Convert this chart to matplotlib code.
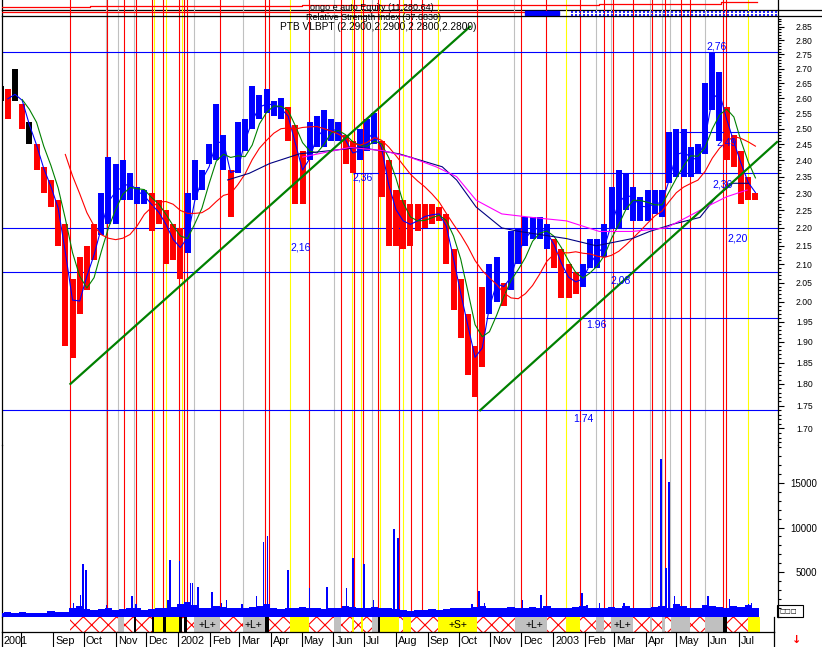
import numpy as np
import pandas as pd
import matplotlib
matplotlib.use("Agg")
import matplotlib.pyplot as plt
import matplotlib.dates as mdates
import matplotlib.transforms as mtransforms
from matplotlib.patches import Rectangle
from matplotlib.lines import Line2D
from matplotlib.ticker import FixedLocator, NullFormatter, MultipleLocator, FixedFormatter

plt.rcParams['font.family'] = ['Liberation Sans', 'DejaVu Sans']
plt.rcParams['hatch.linewidth'] = 0.8

# ------------------------------------------------------------------ data
week_start = '2001-07-12'   # weekly bars (one per week)
price_high = [2.64, 2.63, 2.70, 2.58, 2.52, 2.45, 2.38, 2.34, 2.28, 2.21,
              2.06, 2.12, 2.15, 2.21, 2.30, 2.41, 2.39, 2.40, 2.36, 2.32,
              2.31, 2.30, 2.28, 2.25, 2.21, 2.20, 2.30, 2.40, 2.37, 2.45,
              2.58, 2.48, 2.37, 2.52, 2.53, 2.64, 2.61, 2.63, 2.59, 2.60,
              2.57, 2.51, 2.43, 2.52, 2.54, 2.56, 2.53, 2.52, 2.48, 2.46,
              2.50, 2.53, 2.55, 2.46, 2.40, 2.31, 2.28, 2.27, 2.27, 2.27,
              2.27, 2.26, 2.24, 2.14, 2.06, 1.97, 1.89, 2.04, 2.10, 2.12,
              2.05, 2.19, 2.20, 2.23, 2.23, 2.23, 2.21, 2.17, 2.14, 2.10,
              2.08, 2.10, 2.17, 2.17, 2.21, 2.32, 2.37, 2.36, 2.32, 2.29,
              2.31, 2.31, 2.31, 2.49, 2.50, 2.50, 2.44, 2.45, 2.65, 2.76,
              2.69, 2.57, 2.48, 2.43, 2.35, 2.30]
price_low = [2.59, 2.53, 2.59, 2.50, 2.45, 2.37, 2.30, 2.26, 2.15, 1.89,
             1.86, 1.97, 2.03, 2.11, 2.18, 2.21, 2.21, 2.28, 2.28, 2.27,
             2.27, 2.19, 2.21, 2.10, 2.11, 2.06, 2.13, 2.28, 2.31, 2.39,
             2.40, 2.37, 2.23, 2.36, 2.43, 2.50, 2.53, 2.55, 2.54, 2.53,
             2.46, 2.27, 2.27, 2.40, 2.44, 2.44, 2.46, 2.46, 2.39, 2.36,
             2.40, 2.43, 2.45, 2.29, 2.15, 2.15, 2.14, 2.15, 2.19, 2.20,
             2.21, 2.22, 2.10, 1.98, 1.91, 1.82, 1.77, 1.84, 1.97, 2.00,
             1.99, 2.03, 2.10, 2.15, 2.17, 2.17, 2.14, 2.09, 2.01, 2.01,
             2.02, 2.04, 2.09, 2.09, 2.12, 2.20, 2.20, 2.25, 2.22, 2.22,
             2.22, 2.24, 2.23, 2.33, 2.35, 2.35, 2.35, 2.36, 2.42, 2.56,
             2.46, 2.40, 2.38, 2.27, 2.28, 2.28]
bar_trend = ("krkrk" + "rrrrrrrrr" + "bbbbbbb" + "rrrrr" + "bbbbbb" + "r" +
             "bbbbbbb" + "rrr" + "bbbbb" + "rr" + "bbb" + "rrrrrrrrrrrrrrr" +
             "bb" + "r" + "bbbbbb" + "rrrr" + "bbbbbbbbbbbbbbbbbbbb" + "rrrrr")

ma_windows = [2, 4, 10]
ma_colors = ['#0000ff', '#008000', '#ff0000']

navy_dates = ['2002-02-18', '2002-03-11', '2002-03-31', '2002-04-29', '2002-05-29',
              '2002-06-27', '2002-08-04', '2002-09-15', '2002-09-29', '2002-10-18',
              '2002-11-12', '2002-11-29', '2003-01-14', '2003-02-12', '2003-03-19',
              '2003-04-05', '2003-04-27', '2003-05-24', '2003-06-09', '2003-06-25',
              '2003-07-10']
navy_vals = [2.34, 2.36, 2.39, 2.42, 2.43, 2.44, 2.42, 2.38, 2.34, 2.26,
             2.20, 2.19, 2.17, 2.15, 2.17, 2.19, 2.21, 2.23, 2.29, 2.33, 2.33]
magenta_dates = ['2002-05-02', '2002-06-17', '2002-07-19', '2002-08-14', '2002-09-09',
                 '2002-09-29', '2002-10-18', '2002-11-12', '2002-12-11', '2003-01-14',
                 '2003-02-15', '2003-03-19', '2003-04-21', '2003-05-11', '2003-05-30',
                 '2003-06-19', '2003-07-09']
magenta_vals = [2.41, 2.44, 2.43, 2.41, 2.38, 2.35, 2.28, 2.24, 2.23, 2.22,
                2.19, 2.19, 2.20, 2.23, 2.26, 2.29, 2.31]

volume_week = [400, 450, 350, 500, 400, 350, 400, 600, 500, 450,
               900, 1200, 800, 700, 800, 900, 700, 800, 1000, 900, 700,
               800, 900, 1000, 1100, 1400, 1600, 1300, 1000, 900, 1200, 1100, 1000,
               900, 1000, 1100, 1200, 1400, 900, 800, 1000, 900, 1100, 1000, 900, 800,
               900, 1000, 1200, 1100, 1000, 900, 1100, 1000, 900, 800, 700, 600, 700, 700, 800,
               700, 800, 900, 1000, 900, 1100, 1200, 1000, 900, 1000, 1100, 900, 1000, 1100, 1000,
               1200, 1000, 900, 1000, 1100, 1200, 1000, 900, 1000, 1100, 900, 1200, 1000, 900, 1000,
               1100, 1200, 1000, 1400, 1200, 900, 1000, 1300, 1200, 1100, 1000, 1200, 1100, 1300, 1000]
spike_dates = ['2001-09-21', '2001-09-28', '2001-09-30', '2001-10-03', '2001-10-23',
               '2001-11-17', '2001-11-21', '2001-12-22', '2001-12-24', '2002-01-02',
               '2002-01-13', '2002-01-15', '2002-01-20', '2002-02-03', '2002-02-12',
               '2002-02-17', '2002-03-04', '2002-03-18', '2002-03-25', '2002-03-29',
               '2002-04-18', '2002-05-09', '2002-05-26', '2002-06-14', '2002-06-20',
               '2002-07-01', '2002-07-10', '2002-07-30', '2002-08-03', '2002-10-14',
               '2002-10-21', '2002-10-26', '2002-12-02', '2002-12-20', '2003-01-29',
               '2003-02-03', '2003-02-15', '2003-03-11', '2003-04-16', '2003-04-21',
               '2003-04-24', '2003-04-29', '2003-06-01', '2003-06-22', '2003-07-10',
               '2003-07-13']
spike_vals = [1570, 2470, 5850, 5280, 1240, 2250, 1460, 1910, 6400, 6290,
              3710, 3710, 3260, 2700, 1570, 1910, 1460, 2360, 8320, 9100,
              5280, 3150, 3260, 3150, 6630, 5850, 1910, 9890, 8770, 1460,
              2810, 1570, 1800, 2470, 2590, 1240, 1570, 1570, 17650, 5500,
              15170, 2360, 2360, 2020, 1350, 1570]

signal_dates = ['2001-09-18', '2001-10-23', '2001-10-24', '2001-11-03', '2001-11-09',
                '2001-11-19', '2001-11-21', '2001-12-06', '2001-12-08', '2001-12-17',
                '2001-12-20', '2002-01-02', '2002-01-05', '2002-01-07', '2002-01-09',
                '2002-01-16', '2002-02-11', '2002-03-05', '2002-03-26', '2002-03-30',
                '2002-04-20', '2002-05-08', '2002-06-02', '2002-06-08', '2002-06-19',
                '2002-06-21', '2002-06-28', '2002-06-30', '2002-07-09', '2002-07-14',
                '2002-07-16', '2002-08-04', '2002-08-08', '2002-08-16', '2002-08-26',
                '2002-09-11', '2002-10-19', '2002-11-24', '2002-12-01', '2002-12-25',
                '2003-01-14', '2003-01-27', '2003-02-12', '2003-02-20', '2003-02-26',
                '2003-02-28', '2003-03-20', '2003-04-05', '2003-04-07', '2003-04-17',
                '2003-04-20', '2003-04-25', '2003-05-06', '2003-05-14', '2003-05-29',
                '2003-06-15', '2003-06-18', '2003-07-10']
signal_kinds = ("rgrgrgrryr" + "yryrrgrgrr" + "yrgryryrgr" + "yryrryrgrr" +
                "yrgrgrrgrg" + "rgrrgrry")

segment_dates = ['2001-07-12', '2001-09-18', '2001-10-24', '2001-11-03', '2001-11-09',
                 '2001-11-19', '2001-11-21', '2001-12-06', '2001-12-08', '2001-12-17',
                 '2001-12-20', '2002-01-02', '2002-01-05', '2002-01-07', '2002-01-09',
                 '2002-01-16', '2002-02-11', '2002-03-05', '2002-03-26', '2002-03-30',
                 '2002-04-20', '2002-05-08', '2002-06-02', '2002-06-08', '2002-06-19',
                 '2002-06-21', '2002-06-28', '2002-06-30', '2002-07-09', '2002-07-14',
                 '2002-07-16', '2002-08-04', '2002-08-08', '2002-08-16', '2002-08-26',
                 '2002-09-11', '2002-10-19', '2002-11-25', '2002-12-01', '2002-12-26',
                 '2003-01-14', '2003-01-27', '2003-02-12', '2003-02-20', '2003-02-26',
                 '2003-03-20', '2003-04-05', '2003-04-07', '2003-04-17', '2003-04-20',
                 '2003-04-26', '2003-05-14', '2003-05-29', '2003-06-15', '2003-06-19',
                 '2003-07-10', '2003-07-21']
segment_kinds = "whhghkhkyk" + "ykhkhghgkh" + "yhghyhyhgk" + "yhyhhyhggh" + "yhghghghgh" + "ghgkhyw"
segment_texts = {15: '+L+', 17: '+L+', 35: '+S+', 38: '+L+', 44: '+L+'}

level_values = [2.76, 2.49, 2.36, 2.20, 2.08, 1.96, 1.74]
level_starts = [None, '2003-05-04', '2002-06-20', None, None, '2002-10-28', None]
label_dates = ['2003-06-09', '2003-06-19', '2003-06-15', '2003-06-30', '2003-03-08',
               '2003-02-12', '2003-01-30', '2002-04-30', '2002-06-29']
label_prices = [2.777, 2.457, 2.325, 2.169, 2.055, 1.942, 1.720, 2.144, 2.346]
label_texts = ['2,76', '2,49', '2,36', '2,20', '2,08', '1.96', '1.74', '2,16', '2,36']

trend1_dates = ['2001-09-18', '2002-10-12']
trend1_prices = [1.80, 2.85]
trend2_dates = ['2002-10-22', '2003-08-07']
trend2_prices = [1.74, 2.457]

equity_dates = ['2001-07-12', '2001-10-07', '2001-12-14', '2002-05-01', '2003-02-15',
                '2003-03-26', '2003-04-25', '2003-06-13', '2003-07-19']
equity_vals = [10259, 10429, 10480, 10701, 10820, 10871, 10905, 11280.64, 11280.64]
rsi_dates = ['2001-07-12', '2002-12-05']
rsi_vals = [62, 62]

price_ticks = [round(1.70 + 0.05 * i, 2) for i in range(24)]
volume_ticks = [5000, 10000, 15000]
month_dates = ['2001-08-01', '2001-09-01', '2001-10-01', '2001-11-01', '2001-12-01',
               '2002-01-01', '2002-02-01', '2002-03-01', '2002-04-01', '2002-05-01',
               '2002-06-01', '2002-07-01', '2002-08-01', '2002-09-01', '2002-10-01',
               '2002-11-01', '2002-12-01', '2003-01-01', '2003-02-01', '2003-03-01',
               '2003-04-01', '2003-05-01', '2003-06-01', '2003-07-01']
month_labels = ['', 'Sep', 'Oct', 'Nov', 'Dec', '2002', 'Feb', 'Mar', 'Apr', 'May',
                'Jun', 'Jul', 'Aug', 'Sep', 'Oct', 'Nov', 'Dec', '2003', 'Feb', 'Mar',
                'Apr', 'May', 'Jun', 'Jul']

# ------------------------------------------------------------------ layout helpers
W, H = 822, 647
fig = plt.figure(figsize=(W / 100, H / 100), dpi=100)
fig.patch.set_facecolor('white')


def px_axes(x0, y0, x1, y1):
    ax = fig.add_axes([x0 / W, 1 - y1 / H, (x1 - x0) / W, (y1 - y0) / H])
    ax.set_facecolor('none')
    for s in ax.spines.values():
        s.set_visible(False)
        s.set_linewidth(0.9)
    ax.tick_params(left=False, right=False, top=False, bottom=False,
                   labelleft=False, labelright=False, labelbottom=False, labeltop=False)
    return ax


def dnum(d):
    return mdates.date2num(np.array(d, dtype='datetime64[D]'))


ORIGIN = dnum('2001-09-01')
PXD = 686 / 668


def xlim_px(x0, x1):
    return (ORIGIN + (x0 - 53) / PXD, ORIGIN + (x1 - 53) / PXD)


ax_eq = px_axes(2, 0, 778, 10)
ax_rsi = px_axes(2, 10, 778, 16)
axp = px_axes(2, 16, 778, 445)
axv = px_axes(2, 445, 778, 616.5)
axs = px_axes(2, 616.5, 774, 632)
axd = px_axes(2, 632, 774, 647)

for ax in (ax_eq, ax_rsi, axp, axv):
    ax.set_xlim(*xlim_px(2, 778))
    ax.spines['left'].set_visible(True)
    ax.spines['right'].set_visible(True)
for ax in (axs, axd):
    ax.set_xlim(*xlim_px(2, 774))
    ax.set_ylim(0, 1)
    ax.spines['left'].set_visible(True)
    ax.spines['right'].set_visible(True)
axd.spines['top'].set_visible(True)
ax_eq.spines['bottom'].set_visible(True)
axp.spines['top'].set_visible(True)

for ypx in (10, 16):
    fig.add_artist(Line2D([778 / W, 1.0], [1 - ypx / H] * 2, color='black', lw=0.9))

# ------------------------------------------------------------------ signal lines
sig_colors = {'r': '#ff0000', 'y': '#ffff00', 'g': '#c0c0c0'}
sig_x = dnum(signal_dates)
for ax in (ax_eq, ax_rsi, axp, axv):
    for x, k in zip(sig_x, signal_kinds):
        ax.axvline(x, color=sig_colors[k], lw=0.8, zorder=1)

# ------------------------------------------------------------------ top mini panels
ax_eq.set_ylim(9800, 11580)
ax_eq.plot(dnum(equity_dates), equity_vals, color='#ff0000', lw=0.9,
           drawstyle='steps-post', zorder=3)
ax_rsi.set_ylim(0, 100)
ax_rsi.plot(dnum(rsi_dates), rsi_vals, color='#ff0000', lw=0.9, zorder=3)
ax_rsi.axvspan(dnum('2002-12-05'), dnum('2003-01-07'), ymin=0.15, ymax=0.8,
               color='#0000ff', zorder=3)
for lvl in (67, 17):
    ax_rsi.plot(dnum(['2003-01-18', '2003-08-07']), [lvl, lvl], color='#0000ff',
                lw=1.2, ls=(0, (1.2, 1.2)), zorder=3)

fig.text(310 / W, 1 - 7.5 / H, 'ongo e auto Equity (11,280.64)', fontsize=6.5,
         ha='left', va='center')
fig.text(306 / W, 1 - 17.5 / H, 'Relative Strength Index (37.6830)', fontsize=6.5,
         ha='left', va='center')
fig.text(280 / W, 1 - 27.5 / H, 'PTB VLBPT (2.2900,2.2900,2.2800,2.2800)', fontsize=7.3,
         ha='left', va='center')

# ------------------------------------------------------------------ price panel
axp.set_yscale('log')
axp.set_ylim(1.6639, 2.8895)
wd = pd.date_range(week_start, periods=len(price_high), freq='7D')
wx = mdates.date2num(wd.to_pydatetime())
cmap = {'k': '#000000', 'r': '#ff0000', 'b': '#0000ff'}
axp.vlines(wx, price_low, price_high, colors=[cmap[c] for c in bar_trend],
           lw=4.3, zorder=3, capstyle='butt')

typical = pd.Series((np.array(price_high) + np.array(price_low)) / 2, index=wx)
for win, col in zip(ma_windows, ma_colors):
    ma = typical.rolling(win).mean()
    axp.plot(wx, ma.values, color=col, lw=0.8, zorder=4)
axp.plot(dnum(navy_dates), navy_vals, color='#000080', lw=0.8, zorder=4)
axp.plot(dnum(magenta_dates), magenta_vals, color='#ff00ff', lw=0.8, zorder=4)

xl = axp.get_xlim()
for lvl, st in zip(level_values, level_starts):
    x0 = xl[0] if st is None else dnum(st)
    axp.hlines(lvl, x0, xl[1], colors='#0000ff', lw=0.8, zorder=2)

axp.plot(dnum(trend1_dates), trend1_prices, color='#008000', lw=1.6, zorder=5)
axp.plot(dnum(trend2_dates), trend2_prices, color='#008000', lw=1.6, zorder=5)

for d, p, t in zip(label_dates, label_prices, label_texts):
    axp.text(dnum(d), p, t, color='#0000ff', fontsize=7.5, ha='center', va='center',
             zorder=6)

axp.yaxis.tick_right()
axp.yaxis.set_major_locator(FixedLocator(price_ticks))
axp.yaxis.set_minor_locator(FixedLocator([round(1.67 + 0.01 * i, 2) for i in range(122)]))
axp.yaxis.set_major_formatter(FixedFormatter(['%.2f' % t for t in price_ticks]))
axp.yaxis.set_minor_formatter(NullFormatter())
axp.tick_params(axis='y', which='major', right=True, labelright=True, direction='out',
                length=4.3, width=0.8, pad=8.6, labelsize=6.2)
axp.tick_params(axis='y', which='minor', right=True, direction='out', length=2.2, width=0.8)

# ------------------------------------------------------------------ volume panel
axv.set_ylim(0, 19275)
axv.bar(wx, volume_week, width=7.0, color='#0000ff', zorder=3, linewidth=0)
axv.bar(dnum(spike_dates), spike_vals, width=1.4, color='#0000ff', zorder=3, linewidth=0)
axv.yaxis.tick_right()
axv.yaxis.set_major_locator(FixedLocator(volume_ticks))
axv.yaxis.set_minor_locator(MultipleLocator(1000))
axv.tick_params(axis='y', which='major', right=True, labelright=True, direction='out',
                length=4.3, width=0.8, pad=24, labelsize=7)
axv.tick_params(axis='y', which='minor', right=True, direction='out', length=2.2, width=0.8)
for lab in axv.get_yticklabels():
    lab.set_horizontalalignment('right')

# ------------------------------------------------------------------ signal strip
seg_x = list(dnum(segment_dates)) + [xlim_px(2, 774)[1]]
for i, k in enumerate(segment_kinds):
    x0, x1 = seg_x[i], seg_x[i + 1]
    if k == 'h':
        axs.add_patch(Rectangle((x0, 0), x1 - x0, 1, facecolor='white', edgecolor='#ff0000',
                                hatch='xx', lw=0, zorder=2))
    elif k == 'y':
        axs.add_patch(Rectangle((x0, 0), x1 - x0, 1, facecolor='#ffff00', lw=0, zorder=2))
    elif k == 'g':
        axs.add_patch(Rectangle((x0, 0), x1 - x0, 1, facecolor='#c0c0c0', lw=0, zorder=2))
    elif k == 'k':
        axs.add_patch(Rectangle((x0, 0), x1 - x0, 1, facecolor='#000000', lw=0, zorder=2))
    if i in segment_texts:
        axs.text((x0 + x1) / 2, 0.45, segment_texts[i], fontsize=7.5, ha='center',
                 va='center', zorder=4)

# ------------------------------------------------------------------ date strip
mx = dnum(month_dates)
axd.vlines(mx, 0, 1, colors='black', lw=0.8)
blend = mtransforms.blended_transform_factory(axd.transData, axd.transAxes)
toff = mtransforms.offset_copy(blend, fig=fig, x=2, y=0, units='dots')
for x, lab in zip(mx, month_labels):
    if lab:
        axd.text(x, 0.42, lab, transform=toff, fontsize=7.8, ha='left', va='center')
axd.text(0, 0.42, '2001', transform=mtransforms.offset_copy(axd.transAxes, fig=fig, x=1,
                                                             y=0, units='dots'),
         fontsize=7.8, ha='left', va='center')

fig.add_artist(Rectangle((777 / W, 1 - 617 / H), 26 / W, 12 / H, fill=False,
                         edgecolor='black', lw=0.8, transform=fig.transFigure))
fig.text(779 / W, 1 - 611.5 / H, '\u25a1\u25a1\u25a1', fontsize=4.5, ha='left', va='center',
         family='DejaVu Sans')
fig.text(797 / W, 1 - 640 / H, '\u2193', color='#ff0000', fontsize=8, fontweight='bold',
         ha='center', va='center', family='DejaVu Sans')

fig.savefig('out.png', dpi=100, facecolor='white')
